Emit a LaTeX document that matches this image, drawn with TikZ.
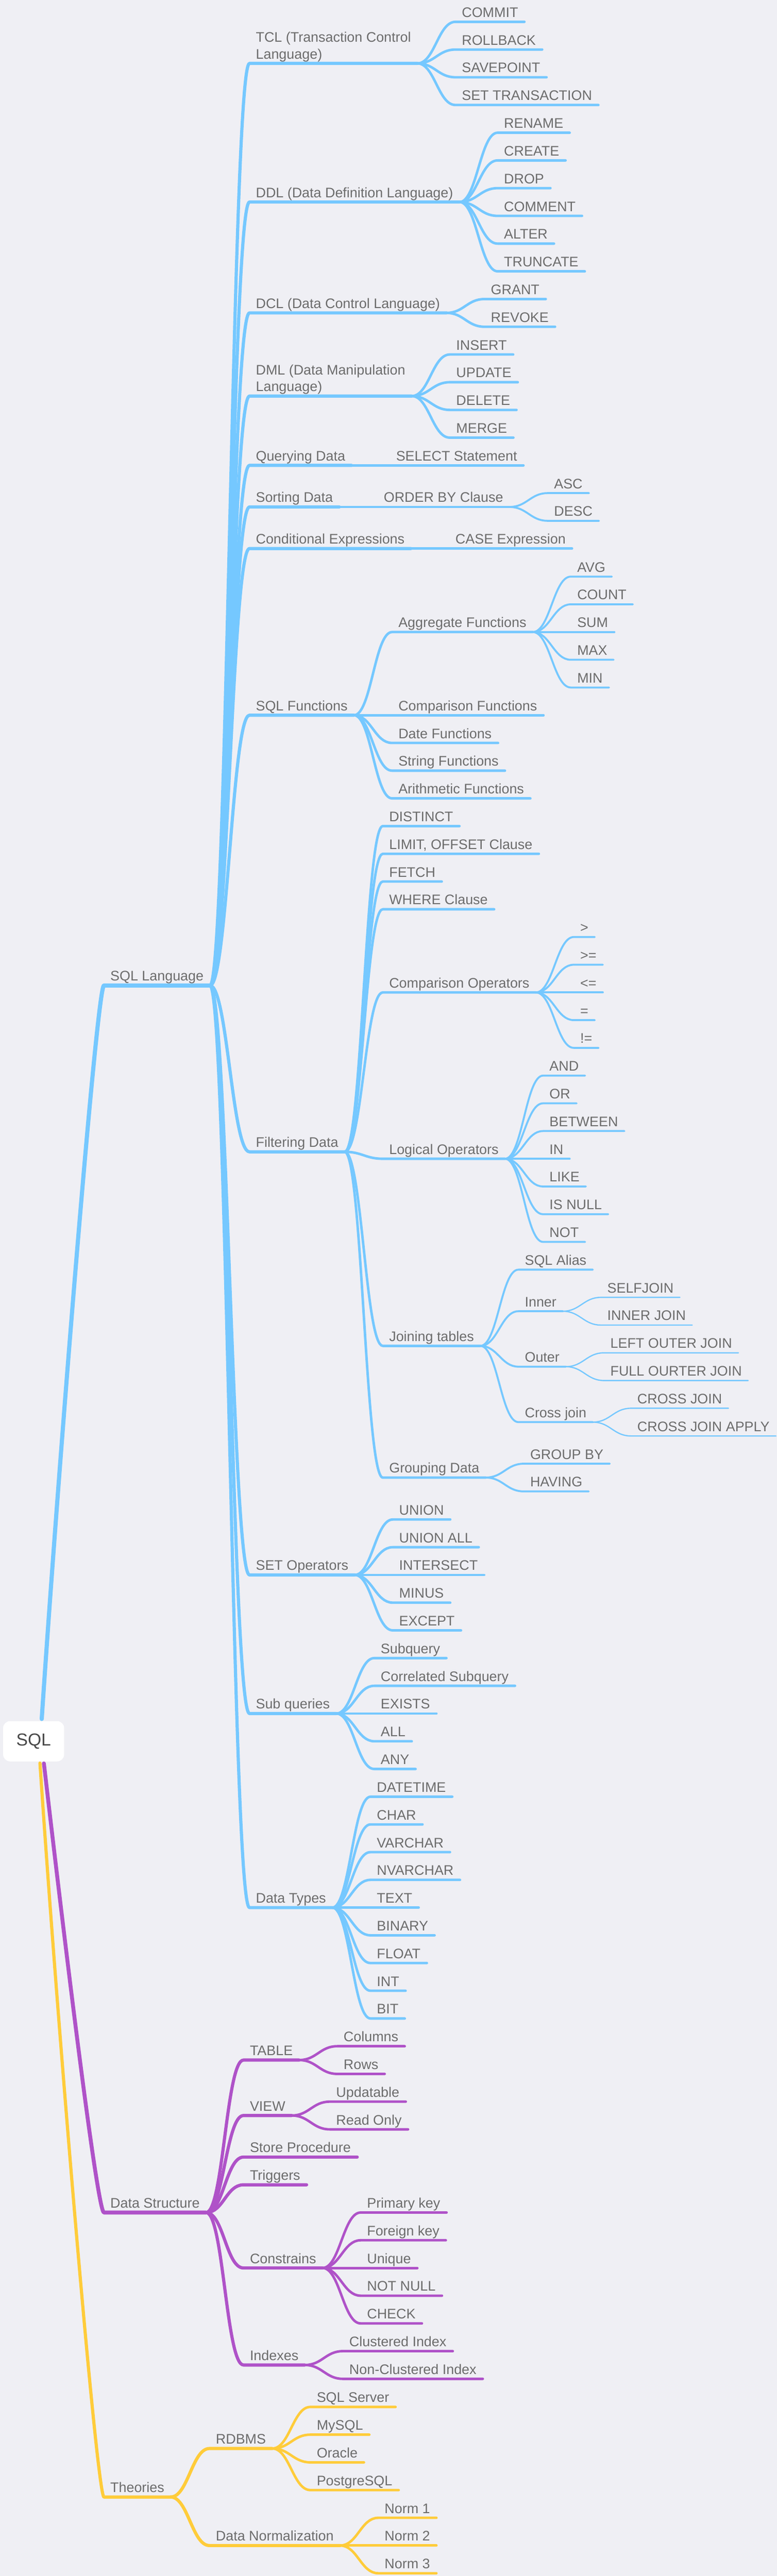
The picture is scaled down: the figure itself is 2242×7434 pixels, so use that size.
\documentclass[tikz,border=0pt]{standalone}
\usepackage{fontspec}
\setmainfont{Liberation Sans}
\usetikzlibrary{calc}
\definecolor{paper}{RGB}{239,239,244}
\definecolor{ink}{RGB}{108,108,108}
\definecolor{rootink}{RGB}{72,72,72}
\definecolor{sky}{RGB}{117,200,255}
\definecolor{plum}{RGB}{175,82,200}
\definecolor{sun}{RGB}{255,204,58}

\begin{document}
\begin{tikzpicture}[x=0.5pt,y=-0.5pt]
  \tikzset{topicbase/.style={anchor=south west, inner xsep=9pt, text=ink, font=\fontsize{20}{24}\selectfont},
    topic/.style={topicbase, inner ysep=0pt, text depth=6.5pt},
    topictwo/.style={topicbase, inner ysep=2.3pt, align=left},
    central/.style={fill=white, rounded corners=10pt, minimum width=88pt, minimum height=58pt,
      text=rootink, font=\fontsize{25}{30}\selectfont},
    wire/.style={line cap=round, line join=round},
    lvl1/.style={wire, line width=5.6pt}, lvl2/.style={wire, line width=4.6pt},
    lvl3/.style={wire, line width=3.6pt}, lvl4/.style={wire, line width=2.8pt},
    lvl5/.style={wire, line width=1.8pt}}
  \useasboundingbox (0,0) rectangle (2242,7434);
  \fill[paper] (0,0) rectangle (2242,7434);

  \node[central] (sql) at (97,5025) {SQL};
  \node[topic] (lang) at (300,2844) {SQL Language};
  \node[topic] (struct) at (300,6385) {Data Structure};
  \node[topic] (theory) at (300,7206) {Theories};

  % SQL Language
  \node[topictwo] (tcl) at ($(lang.south east)+(114,-2661)$) {TCL (Transaction Control\\Language)};
  \node[topic] (ddl) at ($(lang.south east)+(114,-2261)$) {DDL (Data Definition Language)};
  \node[topic] (dcl) at ($(lang.south east)+(114,-1941)$) {DCL (Data Control Language)};
  \node[topictwo] (dml) at ($(lang.south east)+(114,-1701)$) {DML (Data Manipulation\\Language)};
  \node[topic] (query) at ($(lang.south east)+(114,-1501)$) {Querying Data};
  \node[topic] (sort) at ($(lang.south east)+(114,-1381)$) {Sorting Data};
  \node[topic] (cond) at ($(lang.south east)+(114,-1261)$) {Conditional Expressions};
  \node[topic] (func) at ($(lang.south east)+(114,-780)$) {SQL Functions};
  \node[topic] (filter) at ($(lang.south east)+(114,480)$) {Filtering Data};
  \node[topic] (setop) at ($(lang.south east)+(114,1701)$) {SET Operators};
  \node[topic] (subq) at ($(lang.south east)+(114,2101)$) {Sub queries};
  \node[topic] (dtype) at ($(lang.south east)+(114,2661)$) {Data Types};

  \node[topic] (commit) at ($(tcl.south east)+(110,-120)$) {COMMIT};
  \node[topic] (rollback) at ($(tcl.south east)+(110,-40)$) {ROLLBACK};
  \node[topic] (savepoint) at ($(tcl.south east)+(110,40)$) {SAVEPOINT};
  \node[topic] (settrans) at ($(tcl.south east)+(110,120)$) {SET TRANSACTION};
  \node[topic] (rename) at ($(ddl.south east)+(110,-200)$) {RENAME};
  \node[topic] (create) at ($(ddl.south east)+(110,-120)$) {CREATE};
  \node[topic] (drop) at ($(ddl.south east)+(110,-40)$) {DROP};
  \node[topic] (comment) at ($(ddl.south east)+(110,40)$) {COMMENT};
  \node[topic] (alter) at ($(ddl.south east)+(110,120)$) {ALTER};
  \node[topic] (truncate) at ($(ddl.south east)+(110,200)$) {TRUNCATE};
  \node[topic] (grant) at ($(dcl.south east)+(110,-40)$) {GRANT};
  \node[topic] (revoke) at ($(dcl.south east)+(110,40)$) {REVOKE};
  \node[topic] (insert) at ($(dml.south east)+(110,-120)$) {INSERT};
  \node[topic] (update) at ($(dml.south east)+(110,-40)$) {UPDATE};
  \node[topic] (delete) at ($(dml.south east)+(110,40)$) {DELETE};
  \node[topic] (merge) at ($(dml.south east)+(110,120)$) {MERGE};
  \node[topic] (select) at ($(query.south east)+(110,0)$) {SELECT Statement};
  \node[topic] (orderby) at ($(sort.south east)+(110,0)$) {ORDER BY Clause};
  \node[topic] (asc) at ($(orderby.south east)+(110,-40)$) {ASC};
  \node[topic] (desc) at ($(orderby.south east)+(110,40)$) {DESC};
  \node[topic] (case) at ($(cond.south east)+(110,0)$) {CASE Expression};

  \node[topic] (aggr) at ($(func.south east)+(110,-240)$) {Aggregate Functions};
  \node[topic] (cmpfunc) at ($(func.south east)+(110,0)$) {Comparison Functions};
  \node[topic] (datefunc) at ($(func.south east)+(110,80)$) {Date Functions};
  \node[topic] (strfunc) at ($(func.south east)+(110,160)$) {String Functions};
  \node[topic] (arithfunc) at ($(func.south east)+(110,240)$) {Arithmetic Functions};
  \node[topic] (avg) at ($(aggr.south east)+(110,-160)$) {AVG};
  \node[topic] (count) at ($(aggr.south east)+(110,-80)$) {COUNT};
  \node[topic] (sum) at ($(aggr.south east)+(110,0)$) {SUM};
  \node[topic] (max) at ($(aggr.south east)+(110,80)$) {MAX};
  \node[topic] (min) at ($(aggr.south east)+(110,160)$) {MIN};

  \node[topic] (distinct) at ($(filter.south east)+(110,-940)$) {DISTINCT};
  \node[topic] (limit) at ($(filter.south east)+(110,-860)$) {LIMIT, OFFSET Clause};
  \node[topic] (fetch) at ($(filter.south east)+(110,-780)$) {FETCH};
  \node[topic] (where) at ($(filter.south east)+(110,-700)$) {WHERE Clause};
  \node[topic] (cmpops) at ($(filter.south east)+(110,-460)$) {Comparison Operators};
  \node[topic] (logops) at ($(filter.south east)+(110,20)$) {Logical Operators};
  \node[topic] (joining) at ($(filter.south east)+(110,560)$) {Joining tables};
  \node[topic] (grouping) at ($(filter.south east)+(110,940)$) {Grouping Data};
  \node[topic] (gt) at ($(cmpops.south east)+(110,-160)$) {>};
  \node[topic] (ge) at ($(cmpops.south east)+(110,-80)$) {>=};
  \node[topic] (le) at ($(cmpops.south east)+(110,0)$) {<=};
  \node[topic] (eq) at ($(cmpops.south east)+(110,80)$) {=};
  \node[topic] (ne) at ($(cmpops.south east)+(110,160)$) {!=};
  \node[topic] (and) at ($(logops.south east)+(110,-240)$) {AND};
  \node[topic] (or) at ($(logops.south east)+(110,-160)$) {OR};
  \node[topic] (between) at ($(logops.south east)+(110,-80)$) {BETWEEN};
  \node[topic] (opin) at ($(logops.south east)+(110,0)$) {IN};
  \node[topic] (like) at ($(logops.south east)+(110,80)$) {LIKE};
  \node[topic] (isnull) at ($(logops.south east)+(110,160)$) {IS NULL};
  \node[topic] (opnot) at ($(logops.south east)+(110,240)$) {NOT};
  \node[topic] (alias) at ($(joining.south east)+(110,-220)$) {SQL Alias};
  \node[topic] (inner) at ($(joining.south east)+(110,-100)$) {Inner};
  \node[topic] (outer) at ($(joining.south east)+(110,60)$) {Outer};
  \node[topic] (crossj) at ($(joining.south east)+(110,220)$) {Cross join};
  \node[topic] (selfjoin) at ($(inner.south east)+(110,-40)$) {SELFJOIN};
  \node[topic] (innerjoin) at ($(inner.south east)+(110,40)$) {INNER JOIN};
  \node[topic] (leftjoin) at ($(outer.south east)+(110,-40)$) {LEFT OUTER JOIN};
  \node[topic] (fulljoin) at ($(outer.south east)+(110,40)$) {FULL OURTER JOIN};
  \node[topic] (crossjoin) at ($(crossj.south east)+(110,-40)$) {CROSS JOIN};
  \node[topic] (crossapply) at ($(crossj.south east)+(110,40)$) {CROSS JOIN APPLY};
  \node[topic] (groupby) at ($(grouping.south east)+(110,-40)$) {GROUP BY};
  \node[topic] (having) at ($(grouping.south east)+(110,40)$) {HAVING};

  \node[topic] (union) at ($(setop.south east)+(110,-160)$) {UNION};
  \node[topic] (unionall) at ($(setop.south east)+(110,-80)$) {UNION ALL};
  \node[topic] (intersect) at ($(setop.south east)+(110,0)$) {INTERSECT};
  \node[topic] (minus) at ($(setop.south east)+(110,80)$) {MINUS};
  \node[topic] (except) at ($(setop.south east)+(110,160)$) {EXCEPT};
  \node[topic] (subquery) at ($(subq.south east)+(110,-160)$) {Subquery};
  \node[topic] (correlated) at ($(subq.south east)+(110,-80)$) {Correlated Subquery};
  \node[topic] (exists) at ($(subq.south east)+(110,0)$) {EXISTS};
  \node[topic] (all) at ($(subq.south east)+(110,80)$) {ALL};
  \node[topic] (any) at ($(subq.south east)+(110,160)$) {ANY};
  \node[topic] (datetime) at ($(dtype.south east)+(110,-320)$) {DATETIME};
  \node[topic] (char) at ($(dtype.south east)+(110,-240)$) {CHAR};
  \node[topic] (varchar) at ($(dtype.south east)+(110,-160)$) {VARCHAR};
  \node[topic] (nvarchar) at ($(dtype.south east)+(110,-80)$) {NVARCHAR};
  \node[topic] (txt) at ($(dtype.south east)+(110,0)$) {TEXT};
  \node[topic] (binary) at ($(dtype.south east)+(110,80)$) {BINARY};
  \node[topic] (float) at ($(dtype.south east)+(110,160)$) {FLOAT};
  \node[topic] (int) at ($(dtype.south east)+(110,240)$) {INT};
  \node[topic] (bit) at ($(dtype.south east)+(110,320)$) {BIT};

  % Data Structure
  \node[topic] (table) at ($(struct.south east)+(108,-440)$) {TABLE};
  \node[topic] (view) at ($(struct.south east)+(108,-280)$) {VIEW};
  \node[topic] (storeproc) at ($(struct.south east)+(108,-160)$) {Store Procedure};
  \node[topic] (triggers) at ($(struct.south east)+(108,-80)$) {Triggers};
  \node[topic] (constr) at ($(struct.south east)+(108,160)$) {Constrains};
  \node[topic] (indexes) at ($(struct.south east)+(108,440)$) {Indexes};
  \node[topic] (columns) at ($(table.south east)+(110,-40)$) {Columns};
  \node[topic] (rows) at ($(table.south east)+(110,40)$) {Rows};
  \node[topic] (updatable) at ($(view.south east)+(110,-40)$) {Updatable};
  \node[topic] (readonly) at ($(view.south east)+(110,40)$) {Read Only};
  \node[topic] (pkey) at ($(constr.south east)+(110,-160)$) {Primary key};
  \node[topic] (fkey) at ($(constr.south east)+(110,-80)$) {Foreign key};
  \node[topic] (unique) at ($(constr.south east)+(110,0)$) {Unique};
  \node[topic] (notnull) at ($(constr.south east)+(110,80)$) {NOT NULL};
  \node[topic] (check) at ($(constr.south east)+(110,160)$) {CHECK};
  \node[topic] (clustered) at ($(indexes.south east)+(110,-40)$) {Clustered Index};
  \node[topic] (nonclustered) at ($(indexes.south east)+(110,40)$) {Non-Clustered Index};

  % Theories
  \node[topic] (rdbms) at ($(theory.south east)+(112,-140)$) {RDBMS};
  \node[topic] (dnorm) at ($(theory.south east)+(112,140)$) {Data Normalization};
  \node[topic] (sqlserver) at ($(rdbms.south east)+(110,-120)$) {SQL Server};
  \node[topic] (mysql) at ($(rdbms.south east)+(110,-40)$) {MySQL};
  \node[topic] (oracle) at ($(rdbms.south east)+(110,40)$) {Oracle};
  \node[topic] (postgres) at ($(rdbms.south east)+(110,120)$) {PostgreSQL};
  \node[topic] (norm1) at ($(dnorm.south east)+(110,-80)$) {Norm 1};
  \node[topic] (norm2) at ($(dnorm.south east)+(110,0)$) {Norm 2};
  \node[topic] (norm3) at ($(dnorm.south east)+(110,80)$) {Norm 3};

  % branches
  \draw[lvl1, sky, line width=6pt, shorten <=3pt] ([xshift=11.5pt]sql.north) .. controls +(50,-750) and +(-20,0) .. (lang.south west) -- (lang.south east);
  \draw[lvl1, plum, shorten <=2.8pt] ([xshift=14.5pt]sql.south) .. controls +(50,430) and +(-20,0) .. (struct.south west) -- (struct.south east);
  \draw[lvl1, sun, line width=4.6pt, shorten <=2.3pt] ([xshift=9pt]sql.south) .. controls +(50,750) and +(-20,0) .. (theory.south west) -- (theory.south east);

  \foreach \p/\c/\w/\col in {lang/tcl/lvl2/sky, lang/ddl/lvl2/sky, lang/dcl/lvl2/sky, lang/dml/lvl2/sky,
      lang/query/lvl2/sky, lang/sort/lvl2/sky, lang/cond/lvl2/sky, lang/func/lvl2/sky, lang/filter/lvl2/sky,
      lang/setop/lvl2/sky, lang/subq/lvl2/sky, lang/dtype/lvl2/sky,
      tcl/commit/lvl3/sky, tcl/rollback/lvl3/sky, tcl/savepoint/lvl3/sky, tcl/settrans/lvl3/sky,
      ddl/rename/lvl3/sky, ddl/create/lvl3/sky, ddl/drop/lvl3/sky, ddl/comment/lvl3/sky, ddl/alter/lvl3/sky,
      ddl/truncate/lvl3/sky, dcl/grant/lvl3/sky, dcl/revoke/lvl3/sky,
      dml/insert/lvl3/sky, dml/update/lvl3/sky, dml/delete/lvl3/sky, dml/merge/lvl3/sky,
      query/select/lvl3/sky, sort/orderby/lvl3/sky, orderby/asc/lvl4/sky, orderby/desc/lvl4/sky, cond/case/lvl3/sky,
      func/aggr/lvl3/sky, func/cmpfunc/lvl3/sky, func/datefunc/lvl3/sky, func/strfunc/lvl3/sky, func/arithfunc/lvl3/sky,
      aggr/avg/lvl4/sky, aggr/count/lvl4/sky, aggr/sum/lvl4/sky, aggr/max/lvl4/sky, aggr/min/lvl4/sky,
      filter/distinct/lvl3/sky, filter/limit/lvl3/sky, filter/fetch/lvl3/sky, filter/where/lvl3/sky,
      filter/cmpops/lvl3/sky, filter/logops/lvl3/sky, filter/joining/lvl3/sky, filter/grouping/lvl3/sky,
      cmpops/gt/lvl4/sky, cmpops/ge/lvl4/sky, cmpops/le/lvl4/sky, cmpops/eq/lvl4/sky, cmpops/ne/lvl4/sky,
      logops/and/lvl4/sky, logops/or/lvl4/sky, logops/between/lvl4/sky, logops/opin/lvl4/sky,
      logops/like/lvl4/sky, logops/isnull/lvl4/sky, logops/opnot/lvl4/sky,
      joining/alias/lvl4/sky, joining/inner/lvl4/sky, joining/outer/lvl4/sky, joining/crossj/lvl4/sky,
      inner/selfjoin/lvl5/sky, inner/innerjoin/lvl5/sky, outer/leftjoin/lvl5/sky, outer/fulljoin/lvl5/sky,
      crossj/crossjoin/lvl5/sky, crossj/crossapply/lvl5/sky, grouping/groupby/lvl4/sky, grouping/having/lvl4/sky,
      setop/union/lvl3/sky, setop/unionall/lvl3/sky, setop/intersect/lvl3/sky, setop/minus/lvl3/sky, setop/except/lvl3/sky,
      subq/subquery/lvl3/sky, subq/correlated/lvl3/sky, subq/exists/lvl3/sky, subq/all/lvl3/sky, subq/any/lvl3/sky,
      dtype/datetime/lvl3/sky, dtype/char/lvl3/sky, dtype/varchar/lvl3/sky, dtype/nvarchar/lvl3/sky, dtype/txt/lvl3/sky,
      dtype/binary/lvl3/sky, dtype/float/lvl3/sky, dtype/int/lvl3/sky, dtype/bit/lvl3/sky,
      struct/table/lvl2/plum, struct/view/lvl2/plum, struct/storeproc/lvl2/plum, struct/triggers/lvl2/plum,
      struct/constr/lvl2/plum, struct/indexes/lvl2/plum,
      table/columns/lvl3/plum, table/rows/lvl3/plum, view/updatable/lvl3/plum, view/readonly/lvl3/plum,
      constr/pkey/lvl3/plum, constr/fkey/lvl3/plum, constr/unique/lvl3/plum, constr/notnull/lvl3/plum, constr/check/lvl3/plum,
      indexes/clustered/lvl3/plum, indexes/nonclustered/lvl3/plum,
      theory/rdbms/lvl2/sun, theory/dnorm/lvl2/sun,
      rdbms/sqlserver/lvl3/sun, rdbms/mysql/lvl3/sun, rdbms/oracle/lvl3/sun, rdbms/postgres/lvl3/sun,
      dnorm/norm1/lvl3/sun, dnorm/norm2/lvl3/sun, dnorm/norm3/lvl3/sun}
    \draw[\w, \col] (\p.south east) .. controls +(50,0) and +(-50,0) .. (\c.south west) -- (\c.south east);
\end{tikzpicture}
\end{document}
